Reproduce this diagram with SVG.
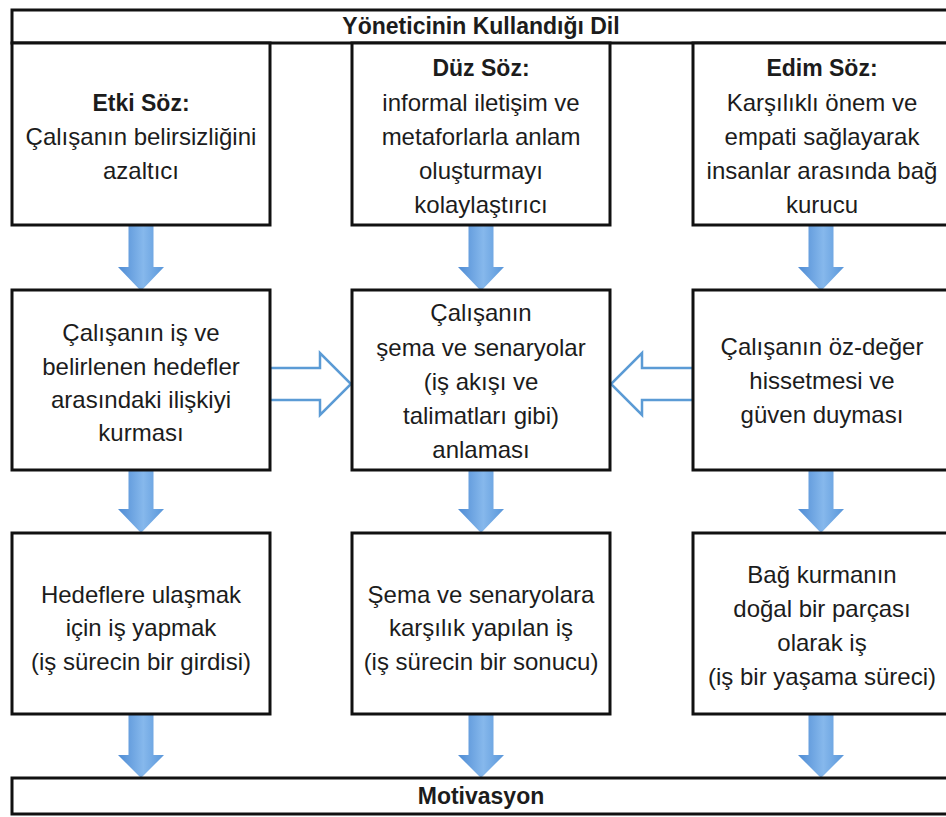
<svg xmlns="http://www.w3.org/2000/svg" width="946" height="817" viewBox="0 0 946 817">
<defs>
<linearGradient id="blue" x1="0" y1="0" x2="1" y2="0">
<stop offset="0" stop-color="#4f8cd4"/>
<stop offset="0.55" stop-color="#86b8ec"/>
<stop offset="1" stop-color="#5a97da"/>
</linearGradient>
<style>
.box{fill:#ffffff;stroke:#111111;stroke-width:3}
.t{font-family:"Liberation Sans",Arial,sans-serif;font-size:24px;fill:#1c1c1c;text-anchor:middle}
.b{font-weight:bold;font-size:23px}
.down{fill:url(#blue);stroke:none}
.hollow{fill:#ffffff;stroke:#5b9bd5;stroke-width:2.5;stroke-linejoin:miter}
</style>
</defs>
<rect width="946" height="817" fill="#ffffff"/>
<g id="connectors">
<path class="down" d="M128.5,225 L153.5,225 L153.5,267 L164,267 L141,291 L118,267 L128.5,267 Z"/>
<path class="down" d="M468.5,225 L493.5,225 L493.5,267 L504,267 L481,291 L458,267 L468.5,267 Z"/>
<path class="down" d="M808.5,225 L833.5,225 L833.5,267 L844,267 L821,291 L798,267 L808.5,267 Z"/>
<path class="down" d="M128.5,470 L153.5,470 L153.5,509 L164,509 L141,533 L118,509 L128.5,509 Z"/>
<path class="down" d="M468.5,470 L493.5,470 L493.5,509 L504,509 L481,533 L458,509 L468.5,509 Z"/>
<path class="down" d="M808.5,470 L833.5,470 L833.5,509 L844,509 L821,533 L798,509 L808.5,509 Z"/>
<path class="down" d="M128.5,714 L153.5,714 L153.5,755 L164,755 L141,778 L118,755 L128.5,755 Z"/>
<path class="down" d="M468.5,714 L493.5,714 L493.5,755 L504,755 L481,778 L458,755 L468.5,755 Z"/>
<path class="down" d="M808.5,714 L833.5,714 L833.5,755 L844,755 L821,778 L798,755 L808.5,755 Z"/>
<path class="hollow" d="M270,368 L320,368 L320,353 L351,384 L320,415 L320,400 L270,400 Z"/>
<path class="hollow" d="M693,368 L642,368 L642,353 L611,384 L642,415 L642,400 L693,400 Z"/>
</g>
<g id="title">
<rect class="box" x="12" y="10" width="940" height="33"/>
<text class="t b" x="481" y="34">Yöneticinin Kullandığı Dil</text>
</g>
<g id="etki">
<rect class="box" x="12" y="43" width="258" height="182"/>
<text class="t b" x="141" y="111">Etki Söz:</text>
<text class="t" x="141" y="145">Çalışanın belirsizliğini</text>
<text class="t" x="141" y="179">azaltıcı</text>
</g>
<g id="duz">
<rect class="box" x="352" y="43" width="258" height="182"/>
<text class="t b" x="481" y="76">Düz Söz:</text>
<text class="t" x="481" y="111">informal iletişim ve</text>
<text class="t" x="481" y="145">metaforlarla anlam</text>
<text class="t" x="481" y="179">oluşturmayı</text>
<text class="t" x="481" y="213">kolaylaştırıcı</text>
</g>
<g id="edim">
<rect class="box" x="693" y="43" width="259" height="182"/>
<text class="t b" x="822" y="76">Edim Söz:</text>
<text class="t" x="822" y="111">Karşılıklı önem ve</text>
<text class="t" x="822" y="145">empati sağlayarak</text>
<text class="t" x="822" y="179">insanlar arasında bağ</text>
<text class="t" x="822" y="213">kurucu</text>
</g>
<g id="iliski">
<rect class="box" x="12" y="290" width="258" height="180"/>
<text class="t" x="141" y="341">Çalışanın iş ve</text>
<text class="t" x="141" y="375">belirlenen hedefler</text>
<text class="t" x="141" y="408">arasındaki ilişkiyi</text>
<text class="t" x="141" y="441">kurması</text>
</g>
<g id="sema">
<rect class="box" x="352" y="290" width="258" height="180"/>
<text class="t" x="481" y="321">Çalışanın</text>
<text class="t" x="481" y="356">şema ve senaryolar</text>
<text class="t" x="481" y="390">(iş akışı ve</text>
<text class="t" x="481" y="424">talimatları gibi)</text>
<text class="t" x="481" y="458">anlaması</text>
</g>
<g id="ozdeger">
<rect class="box" x="693" y="290" width="259" height="180"/>
<text class="t" x="822" y="355">Çalışanın öz-değer</text>
<text class="t" x="822" y="389">hissetmesi ve</text>
<text class="t" x="822" y="423">güven duyması</text>
</g>
<g id="hedef">
<rect class="box" x="12" y="533" width="258" height="181"/>
<text class="t" x="141" y="603">Hedeflere ulaşmak</text>
<text class="t" x="141" y="636">için iş yapmak</text>
<text class="t" x="141" y="670">(iş sürecin bir girdisi)</text>
</g>
<g id="karsilik">
<rect class="box" x="352" y="533" width="258" height="181"/>
<text class="t" x="481" y="603">Şema ve senaryolara</text>
<text class="t" x="481" y="636">karşılık yapılan iş</text>
<text class="t" x="481" y="670">(iş sürecin bir sonucu)</text>
</g>
<g id="bag">
<rect class="box" x="693" y="533" width="259" height="181"/>
<text class="t" x="822" y="583">Bağ kurmanın</text>
<text class="t" x="822" y="617">doğal bir parçası</text>
<text class="t" x="822" y="651">olarak iş</text>
<text class="t" x="822" y="685">(iş bir yaşama süreci)</text>
</g>
<g id="motivasyon">
<rect class="box" x="12" y="778" width="940" height="36"/>
<text class="t b" x="481" y="804">Motivasyon</text>
</g>
</svg>
